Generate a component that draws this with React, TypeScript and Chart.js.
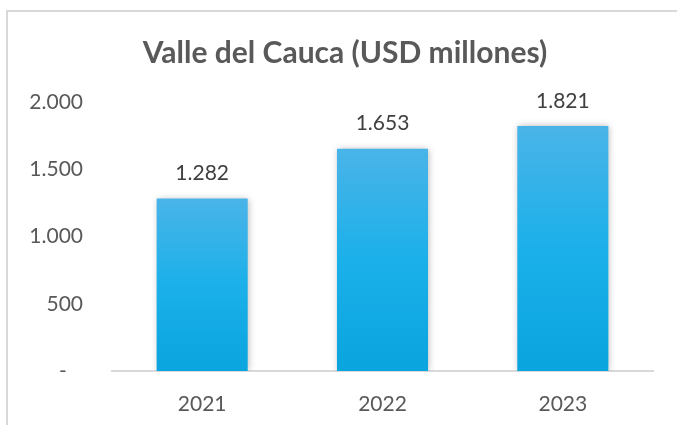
import React, { useEffect, useRef } from "react";
import { Chart, registerables } from "chart.js";

Chart.register(...registerables);

const categories = ["2021", "2022", "2023"];
const values = [1282, 1653, 1821];
const yTicks = [0, 500, 1000, 1500, 2000];
const titleText = "Valle del Cauca (USD millones)";

const FONT = "Lato";

function fmt(v: number): string {
  if (v === 0) return "-   ";
  return v.toLocaleString("de-DE");
}

export default function App() {
  const ref = useRef<HTMLCanvasElement | null>(null);

  useEffect(() => {
    if (!ref.current) return;
    const shadowPlugin = {
      id: "barShadow",
      beforeDatasetsDraw(chart: any) {
        const c = chart.ctx;
        c.save();
        c.shadowColor = "rgba(0,0,0,0.28)";
        c.shadowBlur = 7;
        c.shadowOffsetX = 1;
        c.shadowOffsetY = 0;
      },
      afterDatasetsDraw(chart: any) {
        chart.ctx.restore();
        const c = chart.ctx;
        const meta = chart.getDatasetMeta(0);
        c.save();
        c.font = `21px ${FONT}`;
        c.fillStyle = "#404040";
        c.textAlign = "center";
        c.textBaseline = "middle";
        meta.data.forEach((bar: any, i: number) => {
          c.fillText(fmt(values[i]), bar.x, bar.y - 25);
        });
        c.restore();
      },
      afterDraw(chart: any) {
        const c = chart.ctx;
        c.save();
        c.font = `bold 30px ${FONT}`;
        c.fillStyle = "#595959";
        c.textAlign = "center";
        c.textBaseline = "middle";
        c.fillText(titleText, 345, 53);
        c.restore();
      },
    };

    const chart = new Chart(ref.current, {
      type: "bar",
      data: {
        labels: categories,
        datasets: [
          {
            data: values,
            backgroundColor: (ctx: any) => {
              const ch = ctx.chart;
              if (!ch.chartArea || ctx.raw == null) return "#1BB0EA";
              const y = ch.scales.y;
              const top = y.getPixelForValue(ctx.raw);
              const bottom = y.getPixelForValue(0);
              const g = ch.ctx.createLinearGradient(0, top, 0, bottom);
              g.addColorStop(0, "#4AB4E8");
              g.addColorStop(0.5, "#1BB0EA");
              g.addColorStop(1, "#0AA4DF");
              return g;
            },
            borderWidth: 0,
            categoryPercentage: 0.505,
            barPercentage: 1,
          },
        ],
      },
      options: {
        responsive: false,
        animation: false,
        layout: { padding: { left: 0, right: 24, top: 102, bottom: 0 } },
        plugins: {
          legend: { display: false },
          tooltip: { enabled: false },
          title: { display: false },
        },
        scales: {
          x: {
            grid: { display: false, drawTicks: false },
            border: { display: true, color: "#D9D9D9", width: 2 },
            ticks: {
              color: "#595959",
              font: { family: FONT, size: 21 },
              padding: 21,
            },
            afterFit: (s: any) => {
              s.height = 54;
            },
          },
          y: {
            min: 0,
            max: 2000,
            grid: { display: false, drawTicks: false },
            border: { display: false },
            afterBuildTicks: (s: any) => {
              s.ticks = yTicks.map((v) => ({ value: v }));
            },
            ticks: {
              color: "#595959",
              font: { family: FONT, size: 21 },
              padding: 29,
              callback: (v: any) => fmt(Number(v)),
            },
            afterFit: (s: any) => {
              s.width = 112;
            },
          },
        },
      },
      plugins: [shadowPlugin],
    });
    return () => chart.destroy();
  }, []);

  return (
    <div
      style={{
        position: "fixed",
        left: 0,
        top: 0,
        width: 677,
        height: 425,
        background: "#fff",
        overflow: "hidden",
      }}
    >
      <div
        style={{
          position: "absolute",
          left: 6,
          top: 10,
          width: 671,
          height: 415,
          boxSizing: "border-box",
          borderLeft: "2px solid #D9D9D9",
          borderTop: "2px solid #D9D9D9",
        }}
      />
      <canvas
        ref={ref}
        width={677}
        height={425}
        style={{ position: "absolute", left: 0, top: 0, width: 677, height: 425 }}
      />
    </div>
  );
}
